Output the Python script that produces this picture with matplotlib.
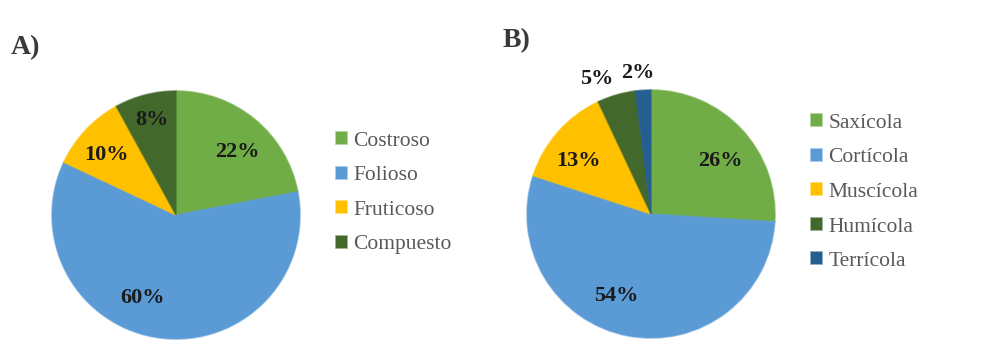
import numpy as np
import matplotlib
matplotlib.use('Agg')
import matplotlib.pyplot as plt

plt.rcParams['font.family'] = ['Liberation Serif', 'DejaVu Serif']

# panel A: growth form
labels_a = ['Costroso', 'Folioso', 'Fruticoso', 'Compuesto']
values_a = [22, 60, 10, 8]
colors_a = ['#70AD47', '#5B9BD5', '#FFC000', '#43682B']

# panel B: substrate
labels_b = ['Saxícola', 'Cortícola', 'Muscícola', 'Humícola', 'Terrícola']
values_b = [26, 54, 13, 5, 2]
colors_b = ['#70AD47', '#5B9BD5', '#FFC000', '#43682B', '#255E91']

# label placement: (radius fraction, angle shift in degrees) per wedge
place_a = [(0.72, -3.6), (0.705, -15), (0.75, 1.3), (0.81, -0.5)]
place_b = [(0.72, -4.5), (0.70, -12.8), (0.74, 3.9), (1.19, 5.3), (1.16, 1.6)]

W, H = 983, 355
fig = plt.figure(figsize=(W / 100, H / 100), dpi=100)


def draw_pie(cx, cy, r, values, labels, colors, place, tag, tag_xy, leg_xy):
    ax = fig.add_axes([(cx - r) / W, (H - cy - r) / H, 2 * r / W, 2 * r / H])
    wedges, _ = ax.pie(values, colors=colors, startangle=90, counterclock=False,
                       wedgeprops=dict(linewidth=1.2))
    for w in wedges:
        w.set_edgecolor(matplotlib.colors.to_rgba(w.get_facecolor(), 0.6))
    ax.set_xlim(-1, 1)
    ax.set_ylim(-1, 1)
    for w, v, (d, sh) in zip(wedges, values, place):
        ang = np.deg2rad((w.theta1 + w.theta2) / 2 + sh)
        ax.text(d * np.cos(ang), d * np.sin(ang), '%d%%' % v, ha='center', va='center_baseline',
                fontsize=16, fontweight='bold', color='#1a1a1a')
    fig.text(tag_xy[0] / W, 1 - tag_xy[1] / H, tag, fontsize=20, fontweight='bold',
             color='#3a3a3a', ha='left', va='center')
    fig.legend(wedges, labels, loc='upper left',
               bbox_to_anchor=(leg_xy[0] / W, 1 - leg_xy[1] / H),
               frameon=False, fontsize=15.5, labelcolor='#595959',
               handlelength=0.5, handleheight=0.5, handletextpad=0.3,
               labelspacing=0.72, borderpad=0, borderaxespad=0)


draw_pie(176, 215, 124, values_a, labels_a, colors_a, place_a, 'A)', (11, 48), (336, 132))
draw_pie(651, 214, 124, values_b, labels_b, colors_b, place_b, 'B)', (503, 41), (811, 114))

fig.savefig('out.png', dpi=100)
